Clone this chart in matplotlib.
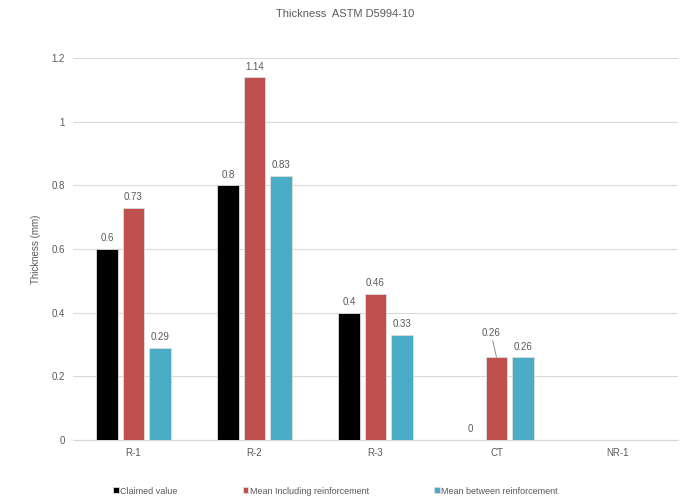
import matplotlib.pyplot as plt
import numpy as np

plt.rcParams['font.family'] = ['Liberation Sans', 'DejaVu Sans']

categories = ['R-1', 'R-2', 'R-3', 'CT', 'NR-1']
claimed = [0.6, 0.8, 0.4, 0.0, np.nan]
mean_incl = [0.73, 1.14, 0.46, 0.26, np.nan]
mean_between = [0.29, 0.83, 0.33, 0.26, np.nan]

series = [
    ('Claimed value', claimed, '#000000'),
    ('Mean Including reinforcement', mean_incl, '#C0504D'),
    ('Mean between reinforcement', mean_between, '#4BACC6'),
]

txt = '#595959'
fig = plt.figure(figsize=(6.82, 5), dpi=100)
ax = fig.add_axes([73 / 682, 60 / 500, 605 / 682, 382 / 500])

x = np.arange(len(categories))
width = 0.18
step = 0.22
for i, (name, vals, col) in enumerate(series):
    pos = x + (i - 1) * step
    ax.bar(pos, vals, width, color=col, edgecolor='#dddddd', linewidth=0.6,
           label=name, zorder=3)
    for j, (p, v) in enumerate(zip(pos, vals)):
        if np.isnan(v):
            continue
        if name == 'Mean Including reinforcement' and categories[j] == 'CT':
            ax.annotate(f'{v:g}', xy=(p, v), xytext=(-4, 14), textcoords='offset points',
                        ha='center', va='bottom', fontsize=7, color=txt,
                        arrowprops=dict(arrowstyle='-', color='#7f7f7f', lw=0.6,
                                        shrinkA=0, shrinkB=0))
        else:
            ax.annotate(f'{v:g}', xy=(p, v), xytext=(0, 4), textcoords='offset points',
                        ha='center', va='bottom', fontsize=7, color=txt)

ax.set_xlim(-0.5, len(categories) - 0.5)
ax.set_ylim(0, 1.2)
ax.set_yticks([0, 0.2, 0.4, 0.6, 0.8, 1.0, 1.2])
ax.set_yticklabels(['0', '0.2', '0.4', '0.6', '0.8', '1', '1.2'])
ax.set_xticks(x)
ax.set_xticklabels(categories)
ax.tick_params(axis='both', length=0, labelsize=7, colors=txt)
ax.tick_params(axis='y', pad=6)
ax.tick_params(axis='x', pad=6)
ax.grid(axis='y', color='#d9d9d9', linewidth=0.8, zorder=0)
for s in ['top', 'right', 'left']:
    ax.spines[s].set_visible(False)
ax.spines['bottom'].set_color('#d9d9d9')
ax.set_ylabel('Thickness (mm)', fontsize=7, color=txt, labelpad=7)

fig.text(0.506, 0.972, 'Thickness  ASTM D5994-10', ha='center', va='center',
         fontsize=8, color=txt)

fig.legend(loc='center', bbox_to_anchor=(0.492, 0.018), ncol=3, frameon=False,
           fontsize=6.5, labelcolor=txt, handlelength=0.6, handleheight=0.6,
           handletextpad=0.2, columnspacing=7.2)

fig.savefig('out.png', dpi=100)
